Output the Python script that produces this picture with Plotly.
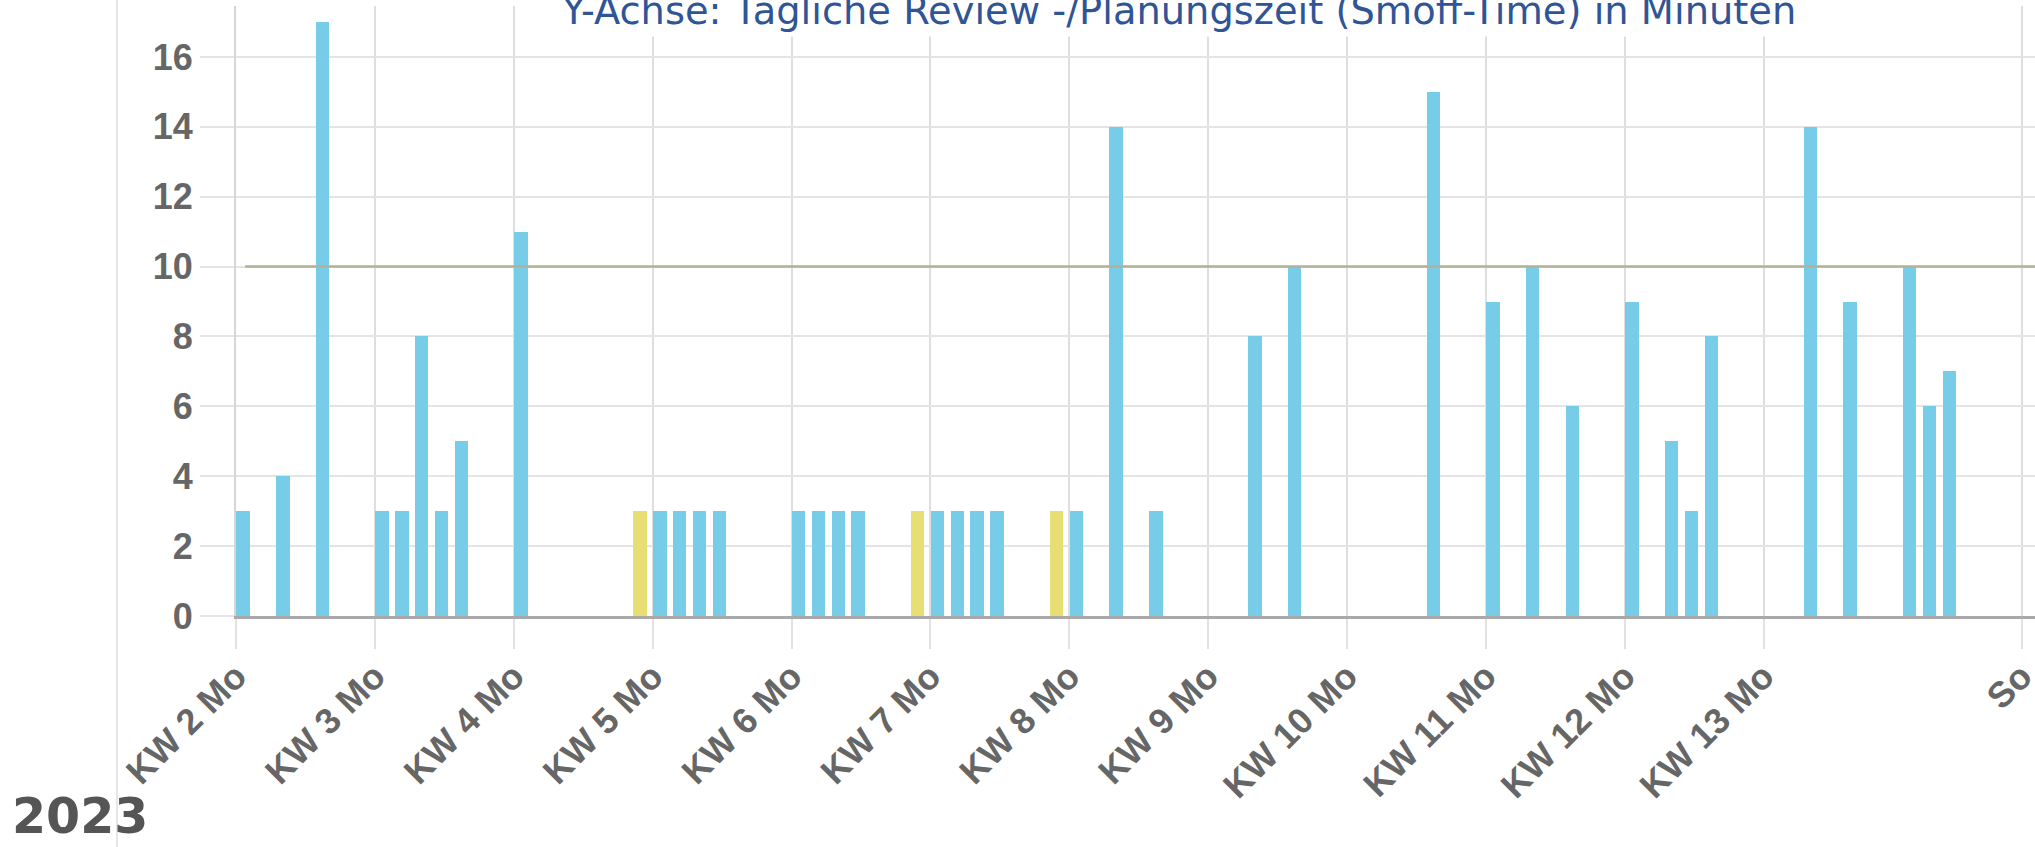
import plotly.graph_objects as go
import pandas as pd

# ---------------- data ----------------
dates = [
    "2023-01-09", "2023-01-11", "2023-01-13",
    "2023-01-16", "2023-01-17", "2023-01-18", "2023-01-19", "2023-01-20",
    "2023-01-23",
    "2023-01-29", "2023-01-30", "2023-01-31", "2023-02-01", "2023-02-02",
    "2023-02-06", "2023-02-07", "2023-02-08", "2023-02-09",
    "2023-02-12", "2023-02-13", "2023-02-14", "2023-02-15", "2023-02-16",
    "2023-02-19", "2023-02-20", "2023-02-22", "2023-02-24",
    "2023-03-01", "2023-03-03",
    "2023-03-10",
    "2023-03-13", "2023-03-15", "2023-03-17",
    "2023-03-20", "2023-03-22", "2023-03-23", "2023-03-24",
    "2023-03-29", "2023-03-31",
    "2023-04-03", "2023-04-04", "2023-04-05",
]
minutes = [
    3, 4, 17,
    3, 3, 8, 3, 5,
    11,
    3, 3, 3, 3, 3,
    3, 3, 3, 3,
    3, 3, 3, 3, 3,
    3, 3, 14, 3,
    8, 10,
    15,
    9, 10, 6,
    9, 5, 3, 8,
    14, 9,
    10, 6, 7,
]
kinds = [
    "w", "w", "w",
    "w", "w", "w", "w", "w",
    "w",
    "s", "w", "w", "w", "w",
    "w", "w", "w", "w",
    "s", "w", "w", "w", "w",
    "s", "w", "w", "w",
    "w", "w",
    "w",
    "w", "w", "w",
    "w", "w", "w", "w",
    "w", "w",
    "w", "w", "w",
]
target_minutes = 10

tick_dates = ["2023-01-09", "2023-01-16", "2023-01-23", "2023-01-30", "2023-02-06",
              "2023-02-13", "2023-02-20", "2023-02-27", "2023-03-06", "2023-03-13",
              "2023-03-20", "2023-03-27", "2023-04-09"]
tick_labels = ["KW 2 Mo", "KW 3 Mo", "KW 4 Mo", "KW 5 Mo", "KW 6 Mo", "KW 7 Mo",
               "KW 8 Mo", "KW 9 Mo", "KW 10 Mo", "KW 11 Mo", "KW 12 Mo", "KW 13 Mo", "So"]
y_ticks = [0, 2, 4, 6, 8, 10, 12, 14, 16]

title_text = "Y-Achse: Tägliche Review -/Planungszeit (Smoff-Time) in Minuten"
year_text = "2023"

# ---------------- styling ----------------
BLUE = "#77cce8"
YELLOW = "#e8df74"
color_map = {"w": BLUE, "s": YELLOW}
DAY_MS = 86400000

W, H = 2035, 847
L, R, T, B = 236, 0, 6, 231
plot_w = W - L - R
plot_h = H - T - B

x_start = pd.Timestamp("2023-01-09")
x_end = x_start + pd.Timedelta(days=plot_w / 19.84)
y_top = plot_h / 34.94


def py(fig_y):
    """figure pixel row -> paper y"""
    return 1 + (T - fig_y) / plot_h


def px(fig_x):
    return (fig_x - L) / plot_w


fig = go.Figure()

fig.add_trace(go.Bar(
    x=dates, y=minutes,
    marker=dict(color=[color_map[k] for k in kinds], line=dict(width=0)),
    width=0.68 * DAY_MS, offset=0.02 * DAY_MS,
    showlegend=False, hoverinfo="x+y",
))

fig.add_trace(go.Scatter(
    x=[x_start + pd.Timedelta(hours=11), x_end + pd.Timedelta(days=2)],
    y=[target_minutes, target_minutes],
    mode="lines", line=dict(color="#b3b197", width=2.5),
    showlegend=False, hoverinfo="skip",
))

fig.update_layout(
    width=W, height=H,
    margin=dict(l=L, r=R, t=T, b=B, pad=0, autoexpand=False),
    paper_bgcolor="white", plot_bgcolor="white",
    bargap=0,
    xaxis=dict(
        type="date",
        range=[x_start, x_end],
        tickvals=tick_dates, ticktext=tick_labels,
        tickangle=-45,
        tickfont=dict(family="Liberation Sans, Arial, sans-serif", size=36,
                      color="#666666", weight="bold"),
        ticks="outside", ticklen=30, tickwidth=2, tickcolor="#e2e2e2",
        ticklabelstandoff=-8, ticklabeloverflow="allow",
        showgrid=True, gridcolor="#dedede", gridwidth=2,
        showline=True, linecolor="#a9a9a9", linewidth=2.5,
        zeroline=False, fixedrange=True, automargin=False,
    ),
    yaxis=dict(
        range=[0, y_top],
        tickvals=y_ticks,
        tickfont=dict(family="Liberation Sans, Arial, sans-serif", size=36,
                      color="#666666", weight="bold"),
        ticks="outside", ticklen=34, tickwidth=2, tickcolor="#e4e4e4",
        showgrid=True, gridcolor="#e4e4e4", gridwidth=2,
        showline=True, linecolor="#d6d6d6", linewidth=2,
        zeroline=False, fixedrange=True, automargin=False,
    ),
    shapes=[dict(
        type="line", xref="paper", yref="paper",
        x0=px(117), x1=px(117), y0=-0.5, y1=1.2,
        line=dict(color="#e6e6e6", width=2), layer="below",
    )],
    annotations=[
        dict(
            text=title_text, xref="paper", yref="paper",
            x=px(1178), y=py(37),
            xanchor="center", yanchor="bottom", showarrow=False,
            font=dict(family="DejaVu Sans, Verdana, sans-serif", size=38.4, color="#2f5597"),
            bgcolor="white", borderpad=3,
        ),
        dict(
            text=year_text, xref="paper", yref="paper",
            x=px(10), y=py(816),
            xanchor="left", yanchor="middle", showarrow=False,
            font=dict(family="DejaVu Sans, sans-serif", size=49, color="#555555", weight="bold"),
        ),
    ],
)

fig.write_html("out.html", config={"displayModeBar": False},
               post_script="document.body.style.margin='0';")
